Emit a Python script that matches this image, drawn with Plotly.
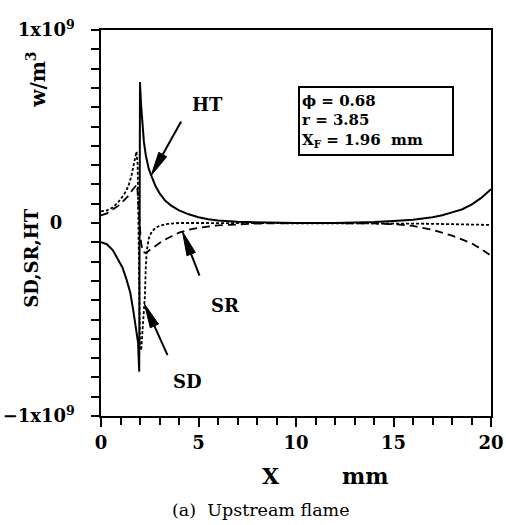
import math
import plotly.graph_objects as go

# Source-term profiles across the upstream flame (values in units of 1e9 W/m^3)
x_ht = [0, 0.3, 0.6, 0.9, 1.1, 1.3, 1.5, 1.65, 1.75, 1.82, 1.9, 1.96, 2.0, 2.05, 2.12,
        2.2, 2.3, 2.45, 2.6, 2.8, 3.0, 3.3, 3.6, 4.0, 4.5, 5.0, 5.5, 6, 7, 8, 10, 12,
        13, 14, 15, 16, 17, 17.5, 18, 18.5, 19, 19.5, 20]
y_ht = [-0.10, -0.11, -0.14, -0.19, -0.23, -0.29, -0.36, -0.45, -0.52, -0.55, -0.62, -0.77,
        0.73, 0.62, 0.50, 0.42, 0.35, 0.28, 0.24, 0.19, 0.155, 0.115, 0.09, 0.065, 0.045,
        0.03, 0.02, 0.013, 0.006, 0.003, 0.0, 0.0, 0.002, 0.005, 0.01, 0.017, 0.03, 0.04,
        0.055, 0.07, 0.095, 0.13, 0.175]

x_sd = [0, 0.3, 0.6, 0.9, 1.2, 1.4, 1.55, 1.65, 1.75, 1.82, 1.88, 1.94, 2.0, 2.06, 2.12,
        2.2, 2.25, 2.3, 2.35, 2.45, 2.6, 2.8, 3.0, 3.4, 4, 5, 6, 8, 10, 14, 16, 18, 20]
y_sd = [0.06, 0.065, 0.08, 0.11, 0.15, 0.19, 0.24, 0.29, 0.35, 0.37, 0.3, -0.1, -0.62,
        -0.66, -0.58, -0.47, -0.38, -0.22, -0.14, -0.08, -0.045, -0.025, -0.015, -0.005,
        0.0, 0.0, 0.0, 0.0, 0.0, 0.0, -0.003, -0.006, -0.01]

x_sr = [0, 0.3, 0.6, 0.9, 1.2, 1.4, 1.6, 1.75, 1.85, 1.95, 2.05, 2.15, 2.3, 2.5, 2.8, 3.2,
        3.6, 4.0, 4.5, 5, 6, 7, 8, 10, 12, 14, 15, 16, 17, 17.5, 18, 18.5, 19, 19.5, 20]
y_sr = [0.04, 0.05, 0.07, 0.09, 0.12, 0.14, 0.17, 0.19, 0.2, 0.05, -0.10, -0.15, -0.155,
        -0.14, -0.12, -0.09, -0.07, -0.05, -0.035, -0.025, -0.012, -0.006, -0.003, 0, 0,
        -0.002, -0.006, -0.015, -0.035, -0.05, -0.065, -0.085, -0.105, -0.135, -0.17]

x_ticks = [0, 5, 10, 15, 20]
y_ticks = [-1, 0, 1]
y_ticktext = ["\u22121x10<sup>9</sup>  ", "0    ", "1x10<sup>9</sup>  "]

X_RANGE = [0, 20]
Y_RANGE = [-1, 1]

# plot area size in pixels
W, H = 506, 525
M = dict(l=101, r=15, t=30, b=109)
PW = W - M["l"] - M["r"]
PH = H - M["t"] - M["b"]
SX = PW / (X_RANGE[1] - X_RANGE[0])   # px per mm
SY = PH / (Y_RANGE[1] - Y_RANGE[0])   # px per 1e9 W/m^3

SERIF = "DejaVu Serif"
BOLD = dict(family=SERIF, size=18, color="black", weight="bold")

fig = go.Figure()
fig.add_trace(go.Scatter(x=x_ht, y=y_ht, mode="lines", name="HT",
                         line=dict(color="black", width=2)))
fig.add_trace(go.Scatter(x=x_sd, y=y_sd, mode="lines", name="SD",
                         line=dict(color="black", width=1.8, dash="3px,2px")))
fig.add_trace(go.Scatter(x=x_sr, y=y_sr, mode="lines", name="SR",
                         line=dict(color="black", width=1.8, dash="8px,5px")))

axis_common = dict(showgrid=False, zeroline=False, showline=True, linecolor="black",
                   linewidth=2, mirror=True, ticks="outside", tickcolor="black",
                   tickwidth=2, tickfont=BOLD, automargin=False)
fig.update_xaxes(range=X_RANGE, tickvals=x_ticks, ticklen=9,
                 minor=dict(dtick=1, ticks="outside", ticklen=7, tickwidth=1.5,
                            tickcolor="black"), **axis_common)
fig.update_yaxes(range=Y_RANGE, tickvals=y_ticks, ticktext=y_ticktext, ticklen=8,
                 minor=dict(dtick=0.1, ticks="outside", ticklen=8, tickwidth=1.5,
                            tickcolor="black"), **axis_common)

centered = dict(xref="paper", yref="paper", xanchor="center", yanchor="middle",
                showarrow=False)
annotations = [
    # axis titles
    dict(centered, text="SD,SR,HT", x=-0.177, y=0.41, textangle=-90, font=BOLD),
    dict(centered, text="w/m<sup>3</sup>", x=-0.165, y=0.87, textangle=-90,
         font=dict(BOLD, size=20)),
    dict(centered, text="X", x=0.435, y=-0.155, font=dict(BOLD, size=22)),
    dict(centered, text="mm", x=0.677, y=-0.155, font=dict(BOLD, size=22)),
    dict(centered, text="(a)  Upstream flame", x=0.41, y=-0.244,
         font=dict(family=SERIF, size=17.5, color="black")),
    # parameter box
    dict(centered, text="\u03d5 = 0.68<br>r = 3.85<br>X<sub>F</sub> = 1.96  mm",
         x=0.704, y=0.764, width=148, height=62, align="left", valign="middle",
         bordercolor="black", borderwidth=2, borderpad=2, bgcolor="white",
         font=dict(BOLD, size=15)),
    # curve labels
    dict(text="HT", x=5.45, y=0.615, showarrow=False, font=BOLD),
    dict(text="SR", x=6.4, y=-0.43, showarrow=False, font=BOLD),
    dict(text="SD", x=4.45, y=-0.82, showarrow=False, font=BOLD),
]


def pointer(tip_x, tip_y, ax, ay, head=24, half=4.5):
    """Line plus narrow filled head pointing at (tip_x, tip_y); tail offset in px."""
    L = math.hypot(ax, ay)
    ux, uy = ax / L, ay / L
    bx, by = ux * head, uy * head
    px, py = -uy * half, ux * half

    def d(dx, dy):
        return tip_x + dx / SX, tip_y - dy / SY

    tail = d(ax, ay)
    base = d(bx, by)
    p1 = d(bx + px, by + py)
    p2 = d(bx - px, by - py)
    return [
        dict(type="line", xref="x", yref="y", x0=tail[0], y0=tail[1],
             x1=base[0], y1=base[1], line=dict(color="black", width=2)),
        dict(type="path", xref="x", yref="y",
             path=f"M{tip_x},{tip_y} L{p1[0]},{p1[1]} L{p2[0]},{p2[1]} Z",
             fillcolor="black", line=dict(color="black", width=1)),
    ]


shapes = []
shapes += pointer(2.57, 0.246, 30, -54)    # HT
shapes += pointer(4.18, -0.045, 17, 44)    # SR
shapes += pointer(2.23, -0.42, 23, 51)     # SD

fig.update_layout(width=W, height=H, margin=M, paper_bgcolor="white",
                  plot_bgcolor="white", showlegend=False,
                  annotations=annotations, shapes=shapes)

fig.write_html("out.html")
